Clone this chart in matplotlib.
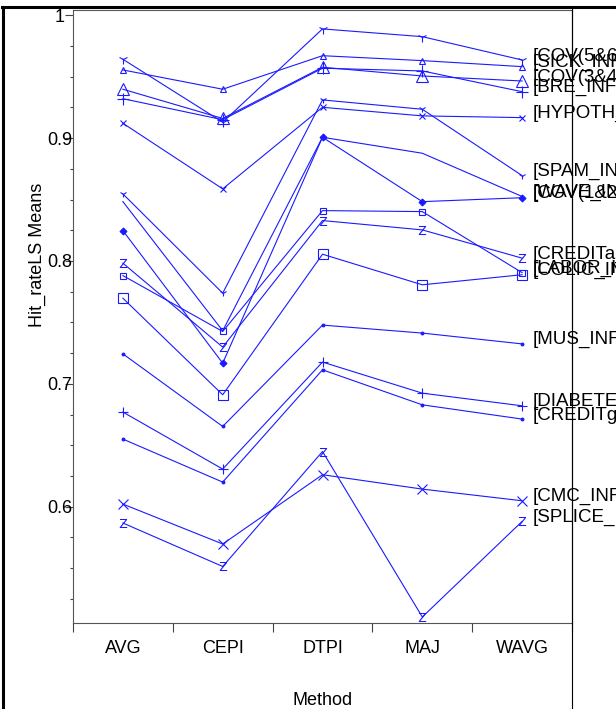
import matplotlib
matplotlib.use("Agg")
import matplotlib.pyplot as plt
from matplotlib.lines import Line2D
import numpy as np

plt.rcParams["font.family"] = ["Liberation Sans", "DejaVu Sans"]

methods = ["AVG", "CEPI", "DTPI", "MAJ", "WAVG"]

# one list per data set: hit rate at AVG, CEPI, DTPI, MAJ, WAVG
cov56 = [0.9642, 0.9130, 0.9889, 0.9826, 0.9636]
sick = [0.9555, 0.9398, 0.9671, 0.9631, 0.9582]
cov34 = [0.9398, 0.9160, 0.9577, 0.9506, 0.9465]
bre = [0.9321, 0.9150, 0.9569, 0.9547, 0.9378]
hypoth = [0.9121, 0.8587, 0.9251, 0.9181, 0.9167]
spam = [0.8546, 0.7738, 0.9311, 0.9235, 0.8695]
wave = [0.8483, 0.7432, 0.9007, 0.8877, 0.8525]
cov12 = [0.8247, 0.7168, 0.9007, 0.8483, 0.8515]
credita = [0.7982, 0.7299, 0.8329, 0.8253, 0.8023]
labor = [0.7881, 0.7426, 0.8410, 0.8402, 0.7905]
colic = [0.7697, 0.6911, 0.8055, 0.7806, 0.7888]
mus = [0.7244, 0.6653, 0.7478, 0.7413, 0.7325]
diabetes = [0.6770, 0.6306, 0.7177, 0.6924, 0.6821]
creditg = [0.6550, 0.6200, 0.7114, 0.6829, 0.6713]
cmc = [0.6021, 0.5696, 0.6260, 0.6143, 0.6048]
splice = [0.5867, 0.5513, 0.6449, 0.5102, 0.5880]

ZMARK = r"$\mathsf{Z}$"
series = [
    ("[COV(5&6)_INF]", cov56, "1", 7),
    ("[SICK_INF]", sick, "^", 4),
    ("[COV(3&4)_INF]", cov34, "^", 8),
    ("[BRE_INF]", bre, "+", 8),
    ("[HYPOTH_INF]", hypoth, "x", 4.5),
    ("[SPAM_INF]", spam, "1", 5),
    ("[WAVE_INF]", wave, None, 0),
    ("[COV(1&2)_INF]", cov12, "D", 3.5),
    ("[CREDITa_INF]", credita, ZMARK, 6.5),
    ("[LABOR_INF]", labor, "s", 4),
    ("[COLIC_INF]", colic, "s", 7),
    ("[MUS_INF]", mus, ".", 4),
    ("[DIABETES_INF]", diabetes, "+", 7),
    ("[CREDITg_INF]", creditg, ".", 4),
    ("[CMC_INF]", cmc, "x", 7.5),
    ("[SPLICE_INF]", splice, ZMARK, 6.5),
]

BLUE = "#1a1aff"
W, H = 616, 709
FS = 13

fig = plt.figure(figsize=(W / 100, H / 100), dpi=100)
ax = fig.add_axes([73 / W, 1 - 623 / H, (572 - 73) / W, (623 - 10) / H])

x = np.arange(len(methods))
for name, vals, marker, ms in series:
    if marker == ZMARK:
        style = dict(markerfacecolor=BLUE, markeredgewidth=0)
    elif marker in ("D", "."):
        style = dict(markerfacecolor=BLUE, markeredgecolor=BLUE, markeredgewidth=0.8)
    else:
        style = dict(markerfacecolor="none", markeredgecolor=BLUE, markeredgewidth=0.8)
    ax.plot(x, vals, color=BLUE, linewidth=0.8, marker=marker, markersize=ms,
            clip_on=False, **style)
    ax.annotate(
        name, (x[-1], vals[-1]), xytext=(11, 4), textcoords="offset pixels",
        ha="left", va="center", fontsize=13.5, color="black", annotation_clip=False,
    )

ax.set_xlim(-0.5, 4.5)
ax.set_ylim(0.5053, 1.0043)

ax.set_yticks([0.6, 0.7, 0.8, 0.9, 1.0])
ax.set_yticklabels(["0.6", "0.7", "0.8", "0.9", "1"])
ax.set_yticks(np.arange(0.525, 1.0, 0.025), minor=True)
ax.tick_params(axis="y", which="major", length=6, width=0.8, color="#444444",
               labelsize=FS, pad=3.5)
ax.tick_params(axis="y", which="minor", length=2.5, width=0.8, color="#444444")
for lab in ax.get_yticklabels():
    lab.set_horizontalalignment("center")

ax.set_xticks(x)
ax.set_xticklabels(methods)
ax.set_xticks(np.arange(-0.5, 5, 1.0), minor=True)
ax.tick_params(axis="x", which="major", length=0, labelsize=FS, pad=12.5)
ax.tick_params(axis="x", which="minor", length=6.5, width=0.8, color="#444444")
ax.set_xlabel("Method", fontsize=FS, labelpad=25)

for side in ("left", "bottom", "top"):
    ax.spines[side].set_color("#555555")
    ax.spines[side].set_linewidth(0.8)
ax.spines["right"].set_color("black")
ax.spines["right"].set_linewidth(0.8)

fig.text(37 / W, 1 - 255 / H, "Hit_rateLS Means", rotation=90,
         ha="center", va="center", fontsize=FS)

# outer frame of the original graph
fig.add_artist(Line2D([2 / W, 1], [1 - 7 / H, 1 - 7 / H], transform=fig.transFigure,
                      color="black", linewidth=2.2))
fig.add_artist(Line2D([3 / W, 3 / W], [0, 1 - 7 / H], transform=fig.transFigure,
                      color="black", linewidth=2.2))
fig.add_artist(Line2D([572 / W, 572 / W], [0, 1 - 7 / H], transform=fig.transFigure,
                      color="black", linewidth=0.8))

fig.savefig("out.png", dpi=100)
